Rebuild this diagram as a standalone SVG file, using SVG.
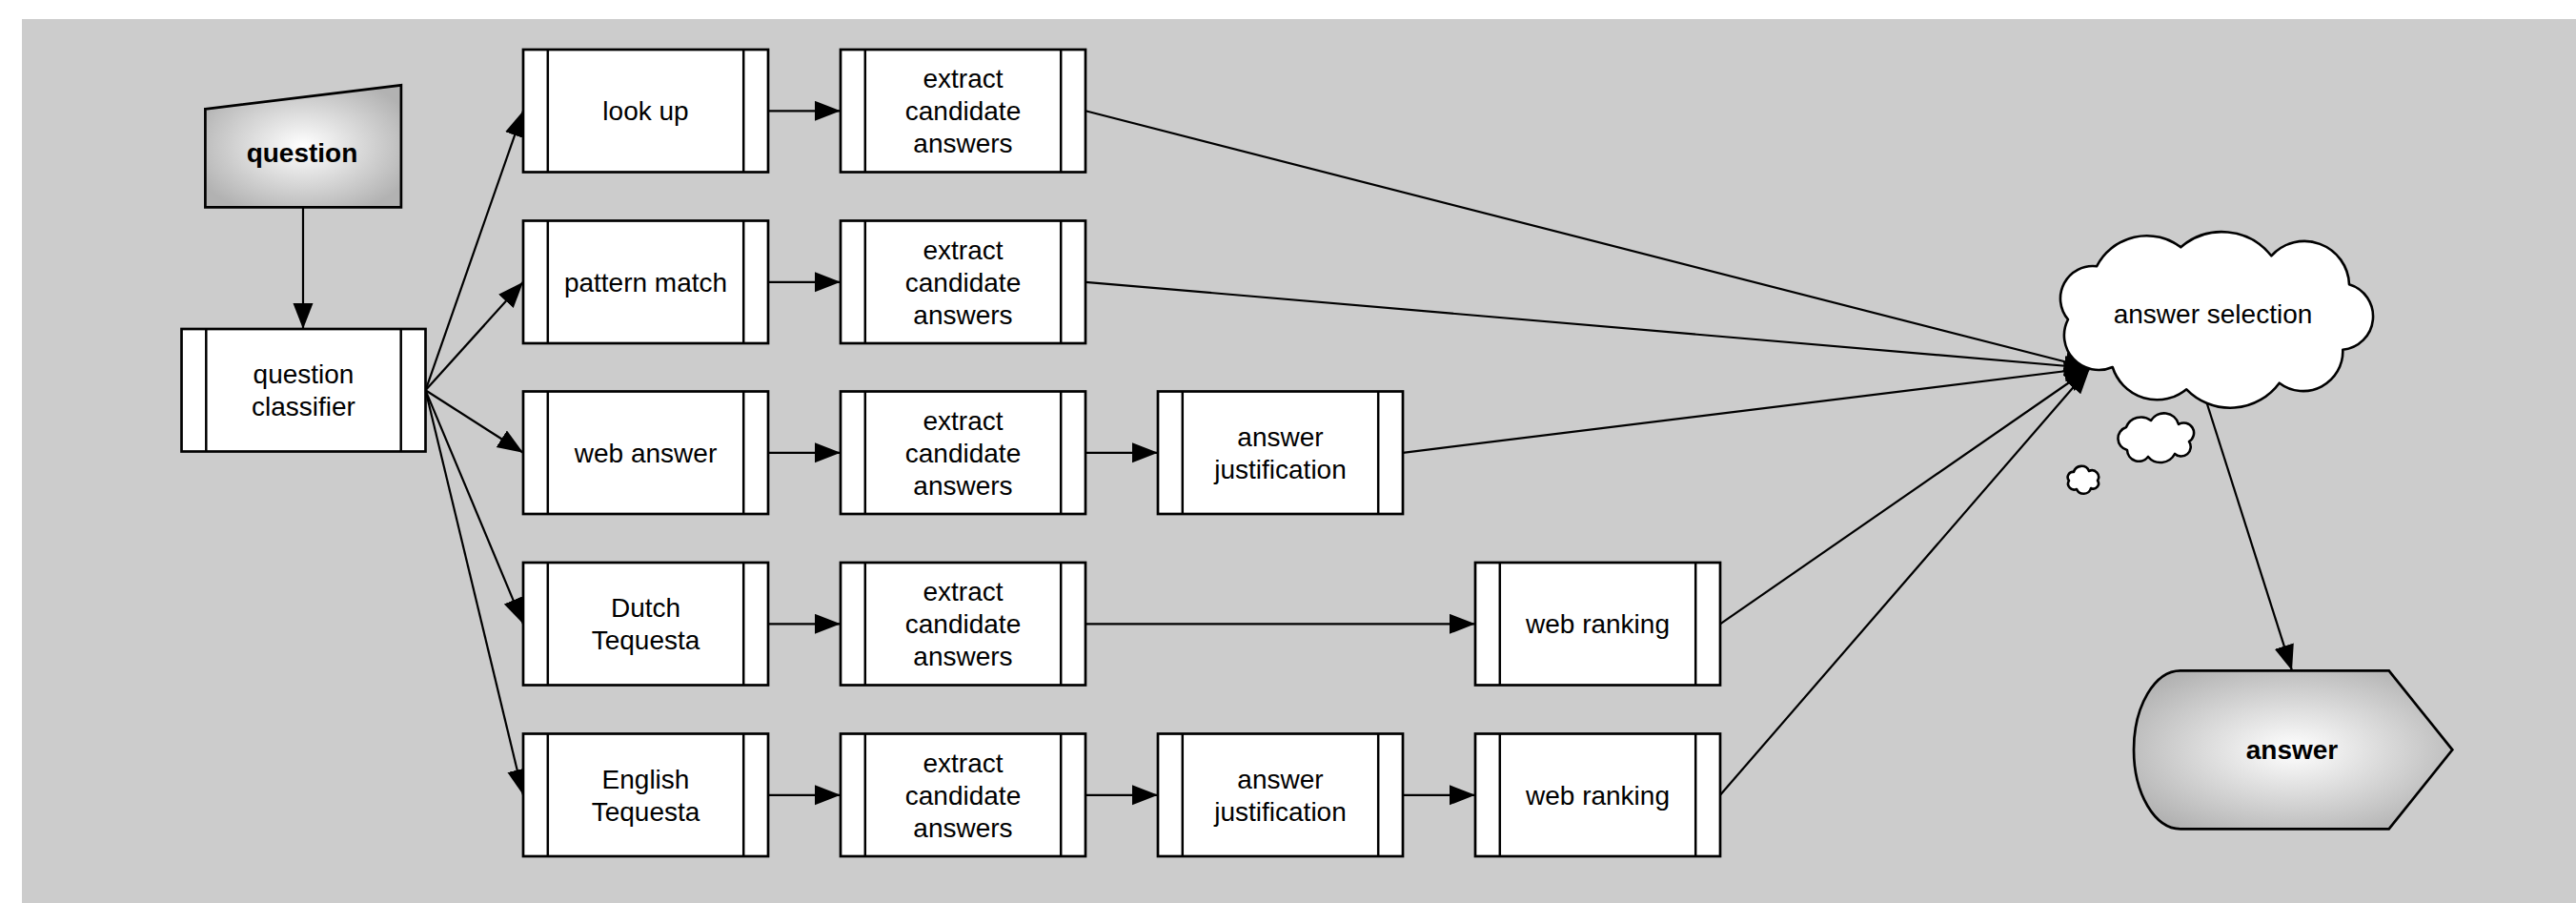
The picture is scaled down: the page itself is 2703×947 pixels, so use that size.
<svg xmlns="http://www.w3.org/2000/svg" width="2703" height="947" viewBox="0 0 2703 947">
<style>
.bg{fill:#cccccc}
.box{fill:#ffffff;stroke:#000000;stroke-width:2.7}
.bar{stroke:#000000;stroke-width:2.5}
.lbl{font-family:"Liberation Sans",Arial,Helvetica,sans-serif;font-size:28px;text-anchor:middle;fill:#000000}
.bold{font-weight:bold}
.cn{fill:none;stroke:#000000;stroke-width:2.2}
.cloud{fill:#ffffff;stroke:#000000;stroke-width:2.6;stroke-linejoin:round}
.term{stroke:#000000;stroke-width:2.7}
</style>
<defs>
<marker id="arr" markerUnits="userSpaceOnUse" markerWidth="28" markerHeight="22" refX="27" refY="10.5" orient="auto">
<path d="M0,0 L27,10.5 L0,21 Z" fill="#000000"/>
</marker>
<radialGradient id="grad" cx="0.5" cy="0.5" r="0.6">
<stop offset="0" stop-color="#ffffff"/>
<stop offset="1" stop-color="#b2b2b2"/>
</radialGradient>
</defs>
<rect class="bg" x="23" y="20" width="2680" height="927"/>

<g id="connectors">
<path class="cn" marker-end="url(#arr)" d="M318,217.3 V345"/>
<path class="cn" marker-end="url(#arr)" d="M446.5,409.3 L549,116.3"/>
<path class="cn" marker-end="url(#arr)" d="M446.5,409.3 L549,295.8"/>
<path class="cn" marker-end="url(#arr)" d="M446.5,409.3 L549,474.8"/>
<path class="cn" marker-end="url(#arr)" d="M446.5,409.3 L549,654.3"/>
<path class="cn" marker-end="url(#arr)" d="M446.5,409.3 L549,833.8"/>
<path class="cn" marker-end="url(#arr)" d="M806,116.3 H882"/>
<path class="cn" marker-end="url(#arr)" d="M806,295.8 H882"/>
<path class="cn" marker-end="url(#arr)" d="M806,474.8 H882"/>
<path class="cn" marker-end="url(#arr)" d="M806,654.3 H882"/>
<path class="cn" marker-end="url(#arr)" d="M806,833.8 H882"/>
<path class="cn" marker-end="url(#arr)" d="M1139,474.8 H1215"/>
<path class="cn" marker-end="url(#arr)" d="M1139,654.3 H1548"/>
<path class="cn" marker-end="url(#arr)" d="M1139,833.8 H1215"/>
<path class="cn" marker-end="url(#arr)" d="M1472,833.8 H1548"/>
<path class="cn" marker-end="url(#arr)" d="M1139,116.3 L2193,386"/>
<path class="cn" marker-end="url(#arr)" d="M1139,295.8 L2193,386"/>
<path class="cn" marker-end="url(#arr)" d="M1472,474.8 L2193,386"/>
<path class="cn" marker-end="url(#arr)" d="M1805,654.3 L2193,386"/>
<path class="cn" marker-end="url(#arr)" d="M1805,833.8 L2193,386"/>
<path class="cn" marker-end="url(#arr)" d="M2310,405 L2405,703.3"/>
</g>

<g id="question">
<polygon class="term" fill="url(#grad)" points="215.4,114.3 420.9,89.3 420.9,217.3 215.4,217.3"/>
<text class="lbl bold" x="317" y="170">question</text>
</g>

<g id="classifier">
<rect class="box" x="190.5" y="345" width="256" height="128.5"/>
<line class="bar" x1="216.3" y1="345" x2="216.3" y2="473.5"/>
<line class="bar" x1="420.7" y1="345" x2="420.7" y2="473.5"/>
<text class="lbl" x="318.5" y="402.3">question</text>
<text class="lbl" x="318.5" y="436.3">classifier</text>
</g>

<g id="lookup">
<rect class="box" x="549" y="52" width="257" height="128.5"/>
<line class="bar" x1="574.8" y1="52" x2="574.8" y2="180.5"/>
<line class="bar" x1="780.2" y1="52" x2="780.2" y2="180.5"/>
<text class="lbl" x="677.5" y="126.3">look up</text>
</g>
<g id="extract1">
<rect class="box" x="882" y="52" width="257" height="128.5"/>
<line class="bar" x1="907.8" y1="52" x2="907.8" y2="180.5"/>
<line class="bar" x1="1113.2" y1="52" x2="1113.2" y2="180.5"/>
<text class="lbl" x="1010.5" y="92.3">extract</text>
<text class="lbl" x="1010.5" y="126.3">candidate</text>
<text class="lbl" x="1010.5" y="160.3">answers</text>
</g>

<g id="pattern">
<rect class="box" x="549" y="231.5" width="257" height="128.5"/>
<line class="bar" x1="574.8" y1="231.5" x2="574.8" y2="360"/>
<line class="bar" x1="780.2" y1="231.5" x2="780.2" y2="360"/>
<text class="lbl" x="677.5" y="305.8">pattern match</text>
</g>
<g id="extract2">
<rect class="box" x="882" y="231.5" width="257" height="128.5"/>
<line class="bar" x1="907.8" y1="231.5" x2="907.8" y2="360"/>
<line class="bar" x1="1113.2" y1="231.5" x2="1113.2" y2="360"/>
<text class="lbl" x="1010.5" y="271.8">extract</text>
<text class="lbl" x="1010.5" y="305.8">candidate</text>
<text class="lbl" x="1010.5" y="339.8">answers</text>
</g>

<g id="webanswer">
<rect class="box" x="549" y="410.5" width="257" height="128.5"/>
<line class="bar" x1="574.8" y1="410.5" x2="574.8" y2="539"/>
<line class="bar" x1="780.2" y1="410.5" x2="780.2" y2="539"/>
<text class="lbl" x="677.5" y="484.8">web answer</text>
</g>
<g id="extract3">
<rect class="box" x="882" y="410.5" width="257" height="128.5"/>
<line class="bar" x1="907.8" y1="410.5" x2="907.8" y2="539"/>
<line class="bar" x1="1113.2" y1="410.5" x2="1113.2" y2="539"/>
<text class="lbl" x="1010.5" y="450.8">extract</text>
<text class="lbl" x="1010.5" y="484.8">candidate</text>
<text class="lbl" x="1010.5" y="518.8">answers</text>
</g>
<g id="justification1">
<rect class="box" x="1215" y="410.5" width="257" height="128.5"/>
<line class="bar" x1="1240.8" y1="410.5" x2="1240.8" y2="539"/>
<line class="bar" x1="1446.2" y1="410.5" x2="1446.2" y2="539"/>
<text class="lbl" x="1343.5" y="467.8">answer</text>
<text class="lbl" x="1343.5" y="501.8">justification</text>
</g>

<g id="dutch">
<rect class="box" x="549" y="590" width="257" height="128.5"/>
<line class="bar" x1="574.8" y1="590" x2="574.8" y2="718.5"/>
<line class="bar" x1="780.2" y1="590" x2="780.2" y2="718.5"/>
<text class="lbl" x="677.5" y="647.3">Dutch</text>
<text class="lbl" x="677.5" y="681.3">Tequesta</text>
</g>
<g id="extract4">
<rect class="box" x="882" y="590" width="257" height="128.5"/>
<line class="bar" x1="907.8" y1="590" x2="907.8" y2="718.5"/>
<line class="bar" x1="1113.2" y1="590" x2="1113.2" y2="718.5"/>
<text class="lbl" x="1010.5" y="630.3">extract</text>
<text class="lbl" x="1010.5" y="664.3">candidate</text>
<text class="lbl" x="1010.5" y="698.3">answers</text>
</g>
<g id="ranking1">
<rect class="box" x="1548" y="590" width="257" height="128.5"/>
<line class="bar" x1="1573.8" y1="590" x2="1573.8" y2="718.5"/>
<line class="bar" x1="1779.2" y1="590" x2="1779.2" y2="718.5"/>
<text class="lbl" x="1676.5" y="664.3">web ranking</text>
</g>

<g id="english">
<rect class="box" x="549" y="769.5" width="257" height="128.5"/>
<line class="bar" x1="574.8" y1="769.5" x2="574.8" y2="898"/>
<line class="bar" x1="780.2" y1="769.5" x2="780.2" y2="898"/>
<text class="lbl" x="677.5" y="826.8">English</text>
<text class="lbl" x="677.5" y="860.8">Tequesta</text>
</g>
<g id="extract5">
<rect class="box" x="882" y="769.5" width="257" height="128.5"/>
<line class="bar" x1="907.8" y1="769.5" x2="907.8" y2="898"/>
<line class="bar" x1="1113.2" y1="769.5" x2="1113.2" y2="898"/>
<text class="lbl" x="1010.5" y="809.8">extract</text>
<text class="lbl" x="1010.5" y="843.8">candidate</text>
<text class="lbl" x="1010.5" y="877.8">answers</text>
</g>
<g id="justification2">
<rect class="box" x="1215" y="769.5" width="257" height="128.5"/>
<line class="bar" x1="1240.8" y1="769.5" x2="1240.8" y2="898"/>
<line class="bar" x1="1446.2" y1="769.5" x2="1446.2" y2="898"/>
<text class="lbl" x="1343.5" y="826.8">answer</text>
<text class="lbl" x="1343.5" y="860.8">justification</text>
</g>
<g id="ranking2">
<rect class="box" x="1548" y="769.5" width="257" height="128.5"/>
<line class="bar" x1="1573.8" y1="769.5" x2="1573.8" y2="898"/>
<line class="bar" x1="1779.2" y1="769.5" x2="1779.2" y2="898"/>
<text class="lbl" x="1676.5" y="843.8">web ranking</text>
</g>

<g id="selection">
<path class="cloud" d="M2170,335 A34,34 0 0 1 2200,279.3 A59,59 0 0 1 2288.3,259.3 A66,66 0 0 1 2383.3,268.3 A47,47 0 0 1 2465,298.3 A35,35 0 0 1 2458.3,366.7 A41.6,41.6 0 0 1 2391.7,401.7 A64,64 0 0 1 2294.3,408.3 A49,49 0 0 1 2216.7,385 A36.3,36.3 0 0 1 2170,335 Z"/>
<path class="cloud" d="M2231,448 A17,17 0 0 1 2257,441 A16,16 0 0 1 2286,445 A10.5,10.5 0 0 1 2297,463 A10,10 0 0 1 2282,476 A17,17 0 0 1 2254,479 A12.3,12.3 0 0 1 2232,472 A12.5,12.5 0 0 1 2231,448 Z"/>
<path class="cloud" d="M2176,495 A8.5,8.5 0 0 1 2192,494 A7,7 0 0 1 2201,504 A5.5,5.5 0 0 1 2194,512 A8,8 0 0 1 2179,513 A6.3,6.3 0 0 1 2171,504 A5.5,5.5 0 0 1 2176,495 Z"/>
<text class="lbl" x="2322" y="339">answer selection</text>
</g>

<g id="answer">
<path class="term" fill="url(#grad)" d="M2288,703.3 L2506.7,703.3 L2573.3,786.3 L2506.7,869.3 L2288,869.3 A49,83 0 0 1 2288,703.3 Z"/>
<text class="lbl bold" x="2405" y="796">answer</text>
</g>
</svg>
